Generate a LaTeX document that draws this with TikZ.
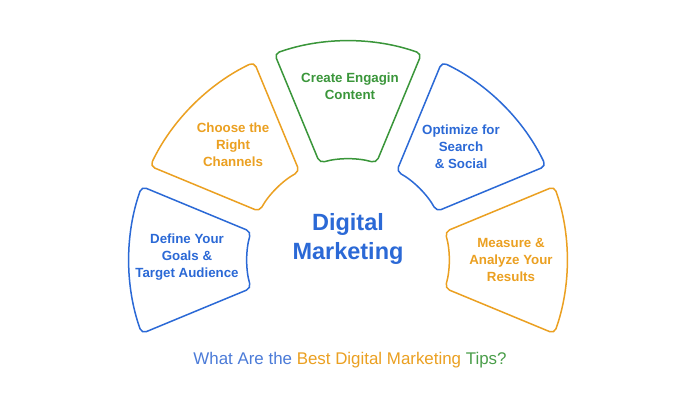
\documentclass[tikz,border=0pt]{standalone}
\usepackage{fontspec}
\setmainfont{Liberation Sans}
\usetikzlibrary{calc}
\definecolor{cblue}{HTML}{2B69D6}
\definecolor{corange}{HTML}{EBA021}
\definecolor{cgreen}{HTML}{3A963A}
\definecolor{capblue}{HTML}{4B7BD8}
\definecolor{capgreen}{HTML}{4A9E4A}
\begin{document}
\begin{tikzpicture}[x=1pt,y=1pt,
  seg/.style={line width=1.5pt, rounded corners=5pt},
  lab/.style={font=\fontsize{13.3}{17}\selectfont\bfseries, align=center, inner sep=0pt},
  ttl/.style={font=\fontsize{23.5}{29}\selectfont\bfseries, align=center, inner sep=0pt, text=cblue},
  captext/.style={font=\fontsize{16.9}{20}\selectfont, inner sep=0pt}]
\fill[white] (0,0) rectangle (698,400);
\useasboundingbox (0,0) rectangle (698,400);
\coordinate (C) at (348,140);
\foreach \c/\col in {180/cblue,135/corange,90/cgreen,45/cblue,0/corange}{
  \pgfmathsetmacro\ao{\c-22.5+2.88}
  \pgfmathsetmacro\bo{\c+22.5-2.88}
  \pgfmathsetmacro\ai{\c-22.5+6.25}
  \pgfmathsetmacro\bi{\c+22.5-6.25}
  \draw[seg,draw=\col] ($(C)+(\ao:219)$) arc[start angle=\ao,end angle=\bo,radius=219]
     -- ($(C)+(\bi:101)$) arc[start angle=\bi,end angle=\ai,radius=101] -- cycle;
}
\node[lab,text=cblue] (define) at (187,143) {Define Your\\Goals \&\\Target Audience};
\node[lab,text=corange] (choose) at (233,255) {Choose the\\Right\\Channels};
\node[lab,text=cgreen] (create) at (350,313.5) {Create Engagin\\Content};
\node[lab,text=cblue] (optimize) at (461,253.5) {Optimize for\\Search\\\& Social};
\node[lab,text=corange] (measure) at (511,140) {Measure \&\\Analyze Your\\Results};
\node[ttl] (title) at (348,161.5) {Digital\\Marketing};
\node[captext] (caption) at (350,40) {{\color{capblue}What Are the }{\color{corange}Best Digital Marketing }{\color{capgreen}Tips?}};
\end{tikzpicture}
\end{document}
